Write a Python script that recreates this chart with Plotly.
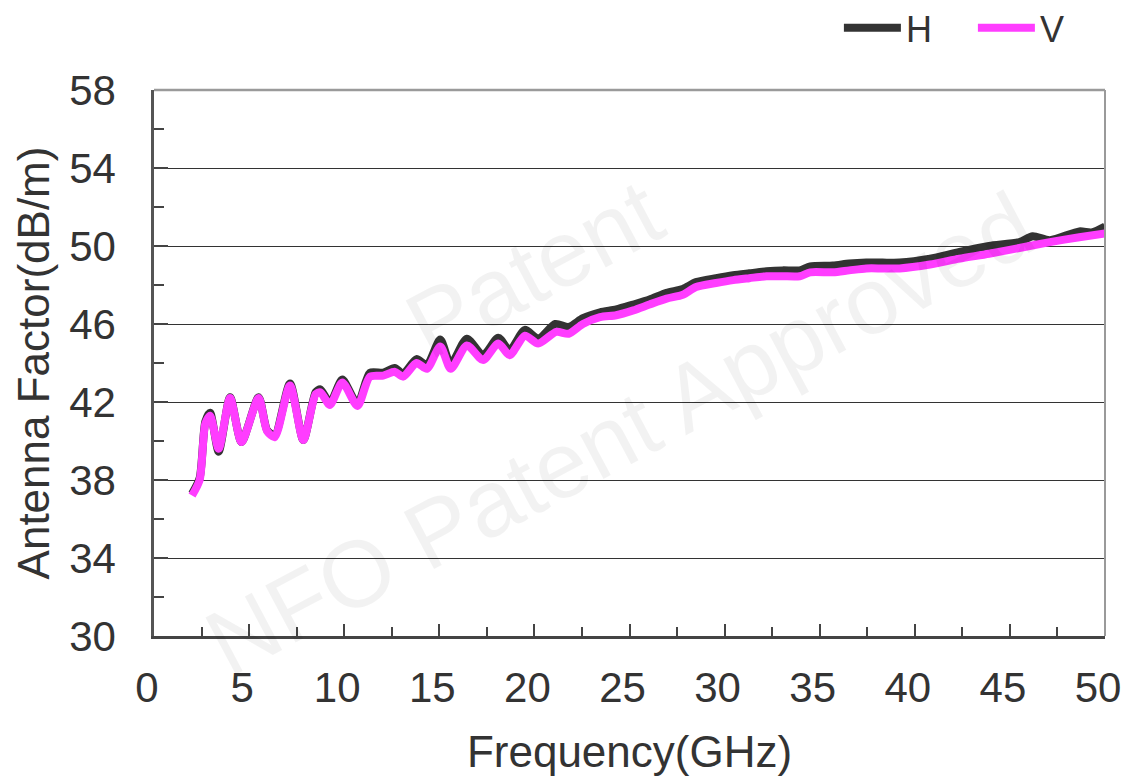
import plotly.graph_objects as go

# Frequency (GHz) and antenna factor (dB/m)
freq_h = [2.0, 2.4, 2.7, 2.95, 3.4, 4.0, 4.6, 5.5, 5.95, 6.35, 7.15, 7.85, 8.5, 8.75,
          9.25, 9.9, 10.7, 11.35, 12.05, 12.65, 13.1, 13.8, 14.35, 15.05, 15.6, 16.45,
          17.3, 18.1, 18.7, 19.5, 20.2, 21.1, 21.8, 22.55, 23.45, 24.3, 25.2, 26.05,
          26.95, 27.8, 28.5, 29.55, 30.45, 31.3, 32.2, 33.05, 33.95, 34.5, 35.7, 36.55,
          37.45, 38.3, 39.2, 40.8, 42.35, 43.9, 45.5, 46.2, 47.1, 48.65, 49.3, 50.0]
af_h = [37.3, 38.1, 41.0, 41.45, 39.45, 42.25, 39.95, 42.25, 40.55, 40.3, 42.95, 40.05,
        42.5, 42.65, 41.95, 43.15, 41.9, 43.5, 43.5, 43.75, 43.45, 44.2, 43.9, 45.2,
        43.95, 45.25, 44.4, 45.3, 44.65, 45.7, 45.25, 46.0, 45.85, 46.3, 46.6, 46.75,
        47.0, 47.25, 47.6, 47.8, 48.15, 48.35, 48.5, 48.6, 48.7, 48.75, 48.75, 48.95,
        49.0, 49.1, 49.15, 49.15, 49.15, 49.35, 49.7, 50.0, 50.2, 50.5, 50.3, 50.75,
        50.7, 51.0]

freq_v = [2.0, 2.4, 2.7, 2.95, 3.4, 4.0, 4.6, 5.5, 5.95, 6.35, 7.15, 7.85, 8.5, 8.75,
          9.25, 9.9, 10.7, 11.35, 12.05, 12.65, 13.1, 13.8, 14.35, 15.05, 15.6, 16.45,
          17.3, 18.1, 18.7, 19.5, 20.2, 21.15, 21.8, 22.55, 23.45, 24.3, 25.2, 26.05,
          26.95, 27.8, 28.5, 29.55, 30.45, 31.3, 32.2, 33.05, 33.95, 34.5, 35.7, 36.55,
          37.45, 38.3, 39.2, 40.8, 42.35, 43.9, 45.5, 47.1, 48.65, 50.0]
af_v = [37.2, 38.0, 40.9, 41.3, 39.6, 42.2, 39.95, 42.2, 40.5, 40.2, 42.85, 40.05,
        42.4, 42.5, 41.85, 43.0, 41.8, 43.3, 43.35, 43.55, 43.3, 44.0, 43.7, 44.85,
        43.7, 44.9, 44.15, 45.0, 44.4, 45.4, 45.0, 45.6, 45.5, 46.0, 46.35, 46.45,
        46.7, 47.0, 47.3, 47.5, 47.9, 48.1, 48.25, 48.35, 48.45, 48.45, 48.45, 48.65,
        48.65, 48.75, 48.85, 48.85, 48.85, 49.05, 49.35, 49.6, 49.9, 50.2, 50.45, 50.65]

x_ticks = [0, 5, 10, 15, 20, 25, 30, 35, 40, 45, 50]
y_ticks = [30, 34, 38, 42, 46, 50, 54, 58]

FONT = "Liberation Sans, Arial, sans-serif"
TXT = "#333333"
AX = "#444444"

fig = go.Figure()
fig.add_trace(go.Scatter(x=freq_h, y=af_h, name="H", mode="lines",
                         line=dict(color="#333333", width=8, shape="spline", smoothing=0.7)))
fig.add_trace(go.Scatter(x=freq_v, y=af_v, name="V", mode="lines",
                         line=dict(color="#ff3dff", width=8, shape="spline", smoothing=0.7)))

# watermark (faint, kept fully inside the picture)
wm_font = dict(family=FONT, size=94, color="rgba(0,0,0,0.05)")
fig.add_annotation(text="NFO Patent Approved", xref="paper", yref="paper", x=0.49, y=0.37,
                   showarrow=False, textangle=-28, font=wm_font)
fig.add_annotation(text="Patent", xref="paper", yref="paper", x=0.40, y=0.88,
                   showarrow=False, textangle=-28, font=wm_font)

# frame (top and right in light gray)
fig.add_shape(type="line", xref="paper", yref="paper", x0=0, x1=1, y0=1, y1=1,
              line=dict(color="#9a9a9a", width=2.5))
fig.add_shape(type="line", xref="paper", yref="paper", x0=1, x1=1, y0=0, y1=1,
              line=dict(color="#9a9a9a", width=2))

fig.update_layout(
    width=1126, height=780,
    margin=dict(l=154, r=21, t=90, b=144, autoexpand=False),
    paper_bgcolor="white", plot_bgcolor="white",
    font=dict(family=FONT, color=TXT),
    showlegend=True,
    legend=dict(orientation="h", x=1.002, xanchor="right", y=1.114, yanchor="middle",
                font=dict(size=36, color=TXT, family=FONT), itemwidth=57,
                entrywidth=62,
                bgcolor="rgba(0,0,0,0)", tracegroupgap=0),
    xaxis=dict(range=[0, 50], tickvals=x_ticks, ticktext=[str(t) for t in x_ticks],
               automargin=False,
               ticks="inside", ticklen=12, tickwidth=1.5, tickcolor=AX,
               showline=True, linecolor=AX, linewidth=2.5, showgrid=False, zeroline=False,
               minor=dict(dtick=2.5, ticks="inside", ticklen=9, tickwidth=1.5, tickcolor=AX,
                          showgrid=False),
               tickfont=dict(size=42, color=TXT, family=FONT),
               ticklabelshift=-7, ticklabelstandoff=13,
               title=dict(text="Frequency(GHz)", font=dict(size=44, color=TXT, family=FONT),
                          standoff=27)),
    yaxis=dict(range=[30, 58], tickvals=y_ticks, ticktext=[str(t) for t in y_ticks],
               automargin=False,
               ticks="inside", ticklen=14, tickwidth=1.5, tickcolor=AX,
               showline=True, linecolor="#555555", linewidth=2.5,
               showgrid=True, gridcolor="#333333", gridwidth=1.2, zeroline=False,
               minor=dict(dtick=2, ticks="inside", ticklen=10, tickwidth=1.5, tickcolor=AX,
                          showgrid=False),
               tickfont=dict(size=42, color=TXT, family=FONT),
               ticklabelstandoff=27,
               title=dict(text="Antenna Factor(dB/m)", font=dict(size=44, color=TXT, family=FONT),
                          standoff=6)),
)

fig.write_html("out.html", config={"displayModeBar": False},
               post_script="document.body.style.margin='0';")
